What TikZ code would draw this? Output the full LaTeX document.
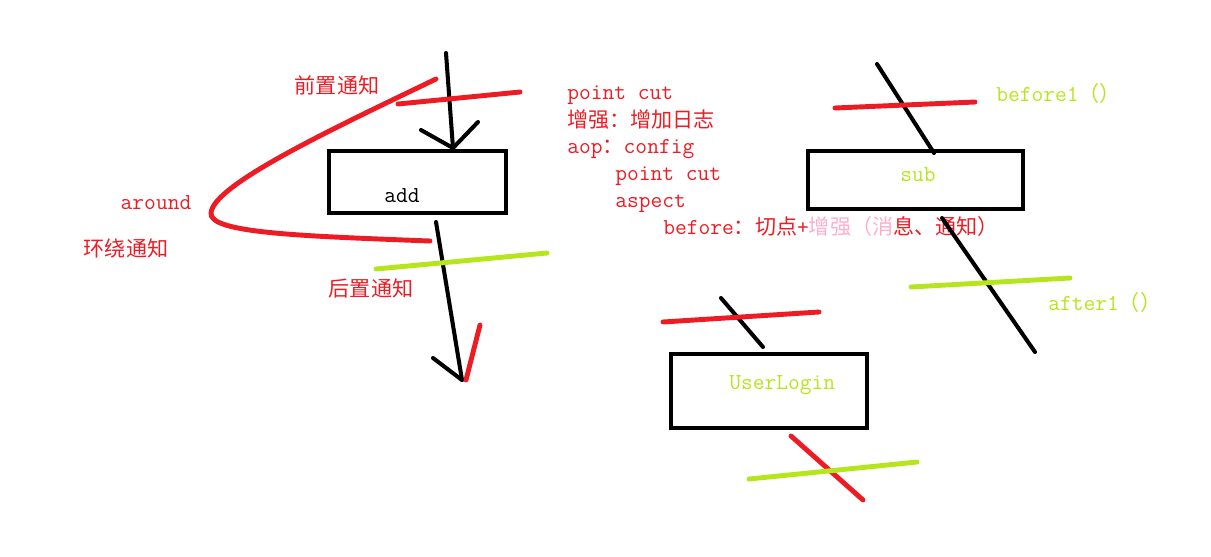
\documentclass[tikz,border=0pt]{standalone}
\usepackage{fontspec}
\newfontfamily\cjk{Noto Sans CJK SC}
\newcommand{\zh}[1]{{\cjk\fontsize{12}{15}\selectfont #1}}
\definecolor{pred}{HTML}{ED1C24}
\definecolor{plime}{HTML}{B5E61D}
\definecolor{ppink}{HTML}{FFAEC9}
\tikzset{
  redline/.style={pred, line width=2.8pt, line cap=round},
  limeline/.style={plime, line width=2.8pt, line cap=round},
  blackline/.style={black, line width=2.3pt, line cap=round},
  method/.style={draw, line width=2.3pt, inner sep=0pt},
  note/.style={pred, font=\ttfamily\fontsize{13}{15}\selectfont, inner sep=0pt},
}
\begin{document}
\begin{tikzpicture}[x=0.02cm, y=-0.02cm]
        \useasboundingbox (0, 0) rectangle (1211, 556);
        % add
        \begin{scope}
        \node[method, minimum width=3.54cm, minimum height=1.24cm] (add) at (417.5, 182) {};
        \node[note, black] (addtxt) at (402, 196) {add};
        \coordinate (intop) at (446, 53);
        \coordinate (inend) at (453, 148);
        \coordinate (outtop) at (436, 222);
        \coordinate (outend) at (462, 380);
        \draw[blackline] (intop)--(inend);
        \draw[blackline] (421, 130)--(inend)--(478, 122);
        \draw[blackline] (outtop)--(outend);
        \draw[blackline] (433, 358)--(outend);
        \draw[redline] (480, 325)--(466, 380);
        \draw[redline] (398, 104)--(520, 92);
        \draw[limeline] (376, 269)--(547, 253);
        \coordinate (aroundtop) at (436, 79);
        \coordinate (aroundtip) at (211, 213);
        \coordinate (aroundend) at (430, 241);
        \draw[redline] (aroundtop)..controls (330, 130) and (213, 185)..(aroundtip)
            ..controls (209, 233) and (300, 236)..(aroundend);
        \node[note] (before) at (337, 85) {\zh{前置通知}};
        \node[note] (around) at (156, 203) {around};
        \node[note] (aroundcn) at (126, 248) {\zh{环绕通知}};
        \node[note] (after) at (371, 288) {\zh{后置通知}};
        \end{scope}
        % notes
        \node[note, anchor=base west] (l1) at (567, 99) {point cut};
        \node[note, anchor=base west] (l2) at (567, 127) {\zh{增强：增加日志}};
        \node[note, anchor=base west] (l3) at (567, 153) {aop\zh{：}config};
        \node[note, anchor=base west] (l4) at (615, 180) {point cut};
        \node[note, anchor=base west] (l5) at (615, 207) {aspect};
        \node[note, anchor=base west] (l6) at (663, 234) {before\zh{：切点}+\zh{\color{ppink}增强（消}\zh{息、通知）}};
        % sub
        \begin{scope}
        \node[method, minimum width=4.3cm, minimum height=1.16cm] (sub) at (915.5, 180) {};
        \node[note, plime] (subtxt) at (918, 175) {sub};
        \draw[blackline] (877, 64)--(934, 153);
        \draw[redline] (835, 108)--(975, 102);
        \draw[blackline] (942, 218)--(1035, 352);
        \draw[limeline] (911, 287)--(1070, 278);
        \node[note, plime, anchor=west] (b1) at (996, 93) {before1\zh{（）}};
        \node[note, plime, anchor=west] (a1) at (1048, 302) {after1\zh{（）}};
        \end{scope}
        % UserLogin
        \begin{scope}
        \node[method, minimum width=3.92cm, minimum height=1.48cm] (login) at (769, 391) {};
        \node[note, plime, anchor=west] (logintxt) at (729, 385) {UserLogin};
        \draw[blackline] (721, 298)--(763, 347);
        \draw[redline] (663, 322)--(819, 312);
        \draw[redline] (791, 436)--(863, 500);
        \draw[limeline] (749, 479)--(917, 462);
        \end{scope}
\end{tikzpicture}
\end{document}
